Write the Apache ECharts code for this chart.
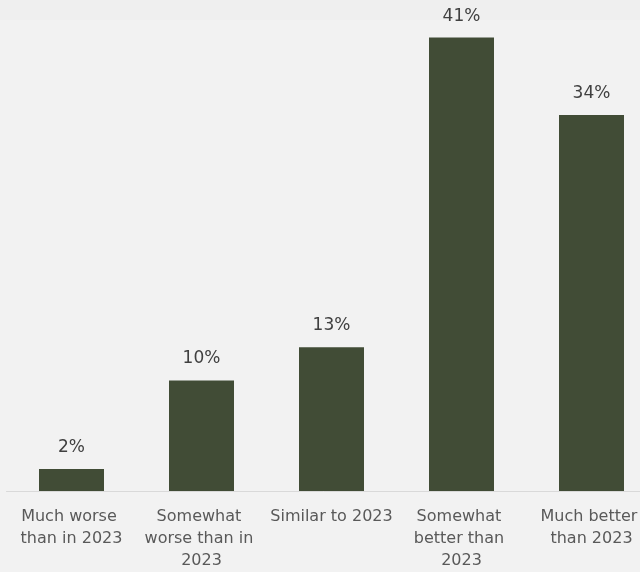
<!DOCTYPE html>
<html>
<head>
<meta charset="utf-8">
<script src="https://cdn.jsdelivr.net/npm/echarts@6/dist/echarts.min.js"></script>
<style>
  html, body { margin: 0; padding: 0; background: #f2f2f2; }
  #chart { width: 640px; height: 572px; }
</style>
</head>
<body>
<div id="chart"></div>
<script>
// Outlook compared with 2023 (share of respondents, %)
const categories = [
  'Much worse than in 2023',
  'Somewhat worse than in 2023',
  'Similar to 2023',
  'Somewhat better than 2023',
  'Much better than 2023'
];
const shares = [2, 10, 13, 41, 34];

const chart = echarts.init(document.getElementById('chart'));
chart.setOption({
  backgroundColor: '#f2f2f2',
  animation: false,
  textStyle: { fontFamily: 'DejaVu Sans' },
  graphic: [{
    type: 'rect',
    left: 0, top: 0, z: -1,
    shape: { width: 640, height: 20 },
    style: { fill: '#efefef' }
  }],
  // plot area runs past the right edge, so the last column is clipped
  grid: {
    left: 6.5, width: 650, top: 0, bottom: 81,
    containLabel: false,
    outerBoundsMode: 'none'
  },
  xAxis: {
    type: 'category',
    data: categories,
    axisLine: { lineStyle: { color: '#d9d9d9', width: 1 } },
    axisTick: { show: false },
    axisLabel: {
      interval: 0,
      color: '#595959',
      fontSize: 16,
      lineHeight: 22,
      margin: 15,
      width: 125,
      overflow: 'break',
      align: 'center',
      hideOverlap: false
    }
  },
  yAxis: {
    type: 'value',
    min: 0,
    max: 44.4,
    show: false,
    splitLine: { show: false }
  },
  series: [{
    type: 'bar',
    data: shares,
    barWidth: '50%',
    itemStyle: { color: '#414c36' },
    label: {
      show: true,
      position: 'top',
      distance: 13,
      color: '#404040',
      fontSize: 17,
      formatter: p => p.value + '%'
    }
  }]
});
</script>
</body>
</html>
